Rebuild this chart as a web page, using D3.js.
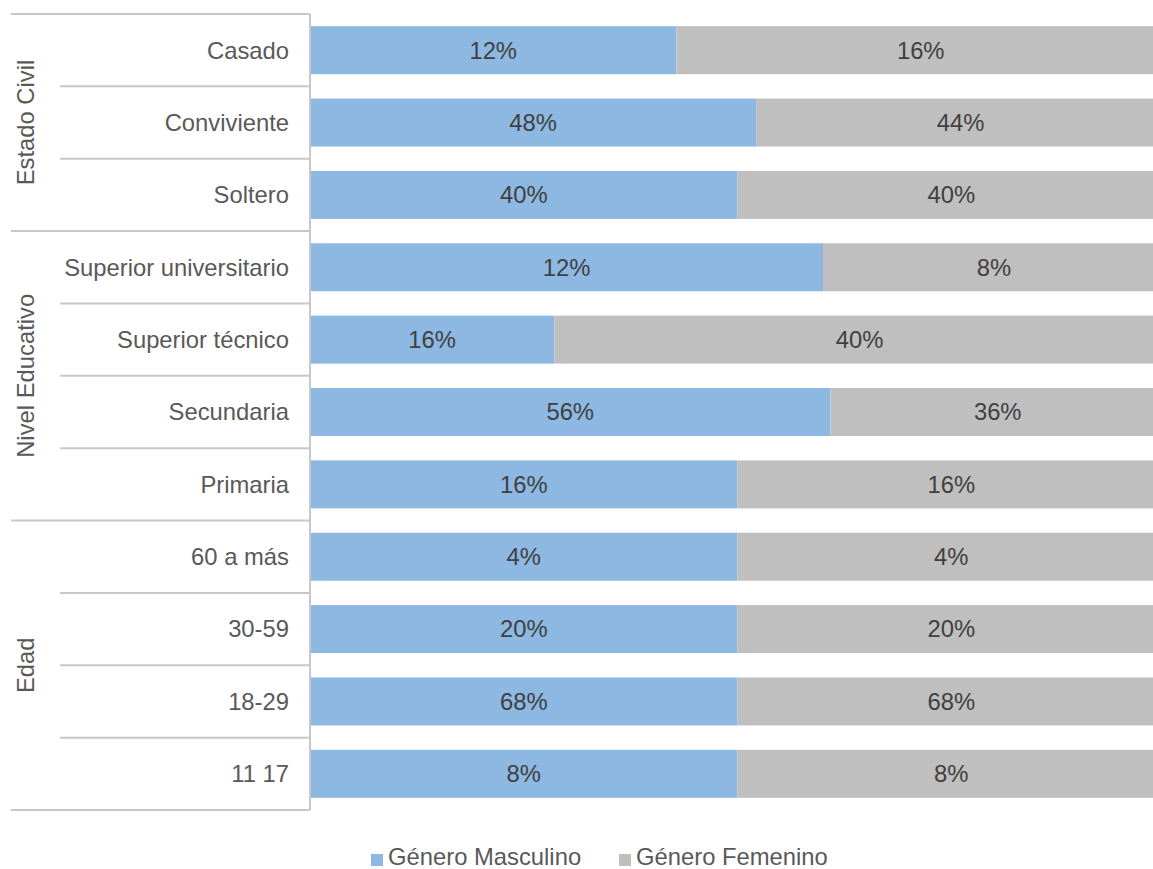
<!DOCTYPE html>
<html><head><meta charset="utf-8">
<script src="https://cdn.jsdelivr.net/npm/d3@7"></script>
<style>body{margin:0;background:#fff;overflow:hidden}svg{display:block}text{font-family:"Liberation Sans",Arial,sans-serif}</style>
</head><body><svg id="c" width="1153" height="869"></svg>
<script>
const categories = ["Casado","Conviviente","Soltero","Superior universitario","Superior técnico","Secundaria","Primaria","60 a más","30-59","18-29","11 17"];
const groups = [
  {name:"Estado Civil", members:["Casado","Conviviente","Soltero"]},
  {name:"Nivel Educativo", members:["Superior universitario","Superior técnico","Secundaria","Primaria"]},
  {name:"Edad", members:["60 a más","30-59","18-29","11 17"]}
];
const masculino = [12,48,40,12,16,56,16,4,20,68,8];
const femenino  = [16,44,40,8,40,36,16,4,20,68,8];
const seriesNames = ["Género Masculino","Género Femenino"];
const colors = ["#8db8e2","#bfbfbf"];

(function(){
const svg = d3.select("#c");
const FS = 23.8;
const pLeft = 310, pRight = 1165, pTop = 14, pBottom = 810;
const y = d3.scaleBand().domain(categories).range([pTop,pBottom]).paddingInner(0.337).paddingOuter(0.1685);
const x = d3.scaleLinear().domain([0,1]).range([pLeft,pRight]);

const rows = categories.map((c,i)=>{const t=masculino[i]+femenino[i];return {c, m:masculino[i], f:femenino[i], pm:masculino[i]/t};});

const g = svg.append("g");
g.selectAll("rect.m").data(rows).join("rect").attr("class","m")
 .attr("x",x(0)).attr("y",d=>y(d.c)).attr("width",d=>x(d.pm)-x(0)).attr("height",y.bandwidth()).attr("fill",colors[0]);
g.selectAll("rect.f").data(rows).join("rect").attr("class","f")
 .attr("x",d=>x(d.pm)).attr("y",d=>y(d.c)).attr("width",d=>x(1)-x(d.pm)).attr("height",y.bandwidth()).attr("fill",colors[1]);
g.selectAll("text.lm").data(rows).join("text").attr("class","lm")
 .attr("x",d=>(x(0)+x(d.pm))/2).attr("y",d=>y(d.c)+y.bandwidth()/2).attr("dy","0.35em")
 .attr("text-anchor","middle").attr("font-size",FS).attr("fill","#404040").text(d=>d.m+"%");
g.selectAll("text.lf").data(rows).join("text").attr("class","lf")
 .attr("x",d=>(x(d.pm)+x(1))/2).attr("y",d=>y(d.c)+y.bandwidth()/2).attr("dy","0.35em")
 .attr("text-anchor","middle").attr("font-size",FS).attr("fill","#404040").text(d=>d.f+"%");

const ax = svg.append("g");
const lineColor = "#c8c8c8";
ax.append("line").attr("x1",pLeft).attr("x2",pLeft).attr("y1",pTop).attr("y2",pBottom).attr("stroke",lineColor).attr("stroke-width",2);
const step = y.step();
const bandTop = c => y(c) - y.paddingInner()*step/2;
categories.forEach(c=>{
  const isGroupStart = groups.some(gr=>gr.members[0]===c);
  ax.append("line").attr("x1",isGroupStart?11:60).attr("x2",pLeft).attr("y1",bandTop(c)).attr("y2",bandTop(c)).attr("stroke",lineColor).attr("stroke-width",2);
});
ax.append("line").attr("x1",11).attr("x2",pLeft).attr("y1",pBottom).attr("y2",pBottom).attr("stroke",lineColor).attr("stroke-width",2);
ax.selectAll("text.cat").data(categories).join("text").attr("class","cat")
 .attr("x",289).attr("y",d=>y(d)+y.bandwidth()/2).attr("dy","0.35em").attr("text-anchor","end")
 .attr("font-size",FS).attr("fill","#595959").text(d=>d);
groups.forEach(gr=>{
  const y0 = bandTop(gr.members[0]);
  const y1 = bandTop(gr.members[gr.members.length-1]) + step;
  const cy = (y0+y1)/2;
  ax.append("text").attr("transform",`translate(26,${cy}) rotate(-90)`).attr("dy","0.35em")
   .attr("text-anchor","middle").attr("font-size",FS).attr("fill","#595959").text(gr.name);
});

const leg = svg.append("g");
const legX = [371,619];
seriesNames.forEach((s,i)=>{
  leg.append("rect").attr("x",legX[i]).attr("y",854).attr("width",12).attr("height",12).attr("fill",colors[i]);
  leg.append("text").attr("x",legX[i]+17).attr("y",865).attr("font-size",FS).attr("fill","#595959").text(s);
});
})();
</script></body></html>
